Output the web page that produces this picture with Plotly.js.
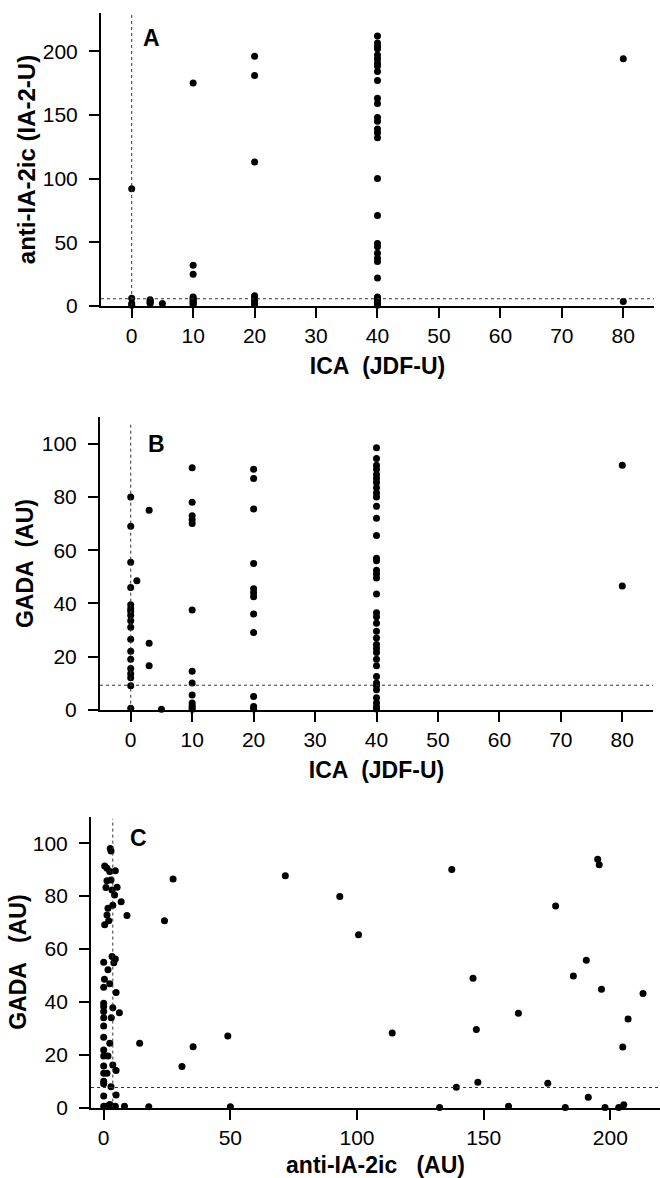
<!DOCTYPE html>
<html>
<head>
<meta charset="utf-8">
<script src="https://cdn.plot.ly/plotly-3.0.1.min.js"></script>
<style>html,body{margin:0;padding:0;background:#fff;}#chart{width:660px;height:1178px;}</style>
</head>
<body>
<div id="chart"></div>
<script>
// Panel A: ICA (JDF-U) vs anti-IA-2ic (IA-2-U)
var aICA = [0,0,0,0, 3,3,3,3, 5,
  10,10,10,10,10,10,10,10,10,10,
  20,20,20,20,20,20,20,20,20,
  40,40,40,40,40,40,40,40,40,40,40,40,40,40,40,40,40,40,40,40,40,40,40,40,40,40,40,40,40,40,40,40,40,
  80,80];
var aIA2 = [92,6,2,0.5, 5,4,3,2, 2,
  175,32,25,7,6,5,4,3,2,1,
  196,181,113,8,6,5,4,2,1,
  212,206.5,204,202,197,194,191,188.5,184,177,163,159,148,145,139,136,132,100,71,49,46.5,41.5,37.5,35,22,7,6,5,4,3,2,1,0.5,
  194,3.5];

// Panel B: ICA (JDF-U) vs GADA (AU)
var bICA = [0,0,0,0,0,0,0,0,0,0,0,0,0,0,0,0,0,0,
  1, 3,3,3, 5,
  10,10,10,10,10,10,10,10,10,10,10,10,10,
  20,20,20,20,20,20,20,20,20,20,20,20,
  40,40,40,40,40,40,40,40,40,40,40,40,40,40,40,40,40,40,40,40,40,40,40,40,40,40,40,40,40,40,40,40,40,40,40,40,40,
  80,80];
var bGADA = [80,69,55.5,46,39.5,38,37,35.5,33.5,31,26.5,22,19,15.5,13.5,12,9,0.5,
  48.5, 75,25,16.5, 0.2,
  91,78,73,71.5,70,37.5,14.5,10,5.5,2.5,1.5,0.8,0.2,
  90.5,87,75.5,55,45.5,44,42.5,36,29,5,1.2,0.3,
  98.5,94.5,92,90.5,88.5,87,85.5,83.5,81.5,80,76.5,72,65.5,57,56,52.5,51,49.5,43.5,36.5,35,32.5,29.5,27,24.5,23,21.5,19,16.5,12.5,10,9,7.5,4.5,2.5,1,0.3,
  92,46.5];

// Panel C: anti-IA-2ic (AU) vs GADA (AU)
var cIA2 = [2.6,2.9,0.4,1.3,2.4,4.6,1.3,2.9,0.9,3.3,5.3,4.3,6.9,3.6,1.7,9.2,1.3,2,0.4,24,27.4,
  3.3,4.6,4,0,1.7,0.3,2.4,0,4.9,0,0,0,3.6,6.2,0,3,0,0,2.4,14.2,35.3,0,0,1.7,0,3.6,4.9,30.9,0,1.3,0,0,2.9,0,4.9,2.4,
  0,1.3,2.4,3.6,4.6,8.2,17.8,50,
  49,71.7,93.2,100.6,113.9,137.4,139.2,145.8,147.1,147.7,163.7,175.3,178.4,185.4,190.5,195,195.6,196.5,204.9,207,212.9,191.3,
  132.6,159.8,182.2,197.9,203.3,205.3];
var cGADA = [98,97,91.4,90.5,89.3,89.6,85.8,86.1,83.2,82.3,83.3,80.4,77.8,76.5,75.4,72.6,72.8,70.7,69.1,70.7,86.4,
  57.1,56.2,54.8,55,52.1,48.5,46.8,45.5,43.5,39.5,38.2,36.3,37.8,35.9,34,34,30.9,26.6,24.3,24.3,23,21.8,19.5,19.5,15.7,16.1,14,15.5,13,13,10,9,7.9,4.4,4.8,1.2,
  0.5,0.5,0.5,0.5,0.5,0.5,0.3,0.3,
  27.1,87.7,79.8,65.4,28.2,90,7.7,48.9,29.5,9.6,35.7,9.2,76.2,49.8,55.7,93.9,91.8,44.8,22.9,33.5,43.1,3.9,
  0,0.5,0,0,0,1.1];

// Cut-off lines
var cutA = {ica: 0, ia2: 5.7};
var cutB = {ica: 0, gada: 9.2};
var cutC = {ia2: 3.6, gada: 7.6};

var FONT = 'Liberation Sans, Arial, Helvetica, sans-serif';
var mk = {color: '#000', size: 7};

var traces = [
  {x: aICA, y: aIA2, xaxis: 'x', yaxis: 'y', mode: 'markers', type: 'scatter', marker: mk, cliponaxis: false, hoverinfo: 'x+y'},
  {x: bICA, y: bGADA, xaxis: 'x2', yaxis: 'y2', mode: 'markers', type: 'scatter', marker: mk, cliponaxis: false, hoverinfo: 'x+y'},
  {x: cIA2, y: cGADA, xaxis: 'x3', yaxis: 'y3', mode: 'markers', type: 'scatter', marker: mk, cliponaxis: false, hoverinfo: 'x+y'}
];

function xax(domain, range, dtick, anchor, title, standoff) {
  return {domain: domain, range: range, anchor: anchor, dtick: dtick, tick0: 0,
    showgrid: false, zeroline: false, showline: true, linecolor: '#000', linewidth: 2,
    ticks: 'outside', ticklen: 10, tickwidth: 2, tickcolor: '#000',
    tickfont: {family: FONT, size: 21, color: '#000'},
    title: {text: title, font: {family: FONT, size: 23, color: '#000', weight: 'bold'}, standoff: standoff},
    fixedrange: true};
}
function yax(domain, range, dtick, anchor, title, standoff, tsize) {
  return {domain: domain, range: range, anchor: anchor, dtick: dtick, tick0: 0,
    showgrid: false, zeroline: false, showline: true, linecolor: '#000', linewidth: 2,
    ticks: 'outside', ticklen: 10, tickwidth: 2, tickcolor: '#000', ticklabelstandoff: 7,
    tickfont: {family: FONT, size: 21, color: '#000'},
    title: {text: title, font: {family: FONT, size: tsize, color: '#000', weight: 'bold'}, standoff: standoff},
    fixedrange: true};
}

var dash = {color: '#333', width: 1, dash: '3px,3px'};
var layout = {
  width: 660, height: 1178,
  margin: {l: 0, r: 0, t: 0, b: 0},
  paper_bgcolor: '#fff', plot_bgcolor: 'rgba(0,0,0,0)',
  showlegend: false,
  xaxis: xax([0.1530, 0.9909], [-5, 85], 10, 'y', 'ICA\u00a0\u00a0(JDF-U)', 12),
  yaxis: yax([0.74024, 0.98896], [0, 230], 50, 'x', 'anti-IA-2ic (IA-2-U)', 0, 24),
  xaxis2: xax([0.1515, 0.9894], [-5, 85], 10, 'y2', 'ICA\u00a0\u00a0(JDF-U)', 12),
  yaxis2: yax([0.39754, 0.64576], [0, 110], 20, 'x2', 'GADA\u00a0\u00a0(AU)', 2, 23),
  xaxis3: xax([0.1379, 1.0], [-5, 219.6], 50, 'y3', 'anti-IA-2ic\u00a0\u00a0\u00a0(AU)', 11),
  yaxis3: yax([0.05976, 0.30671], [0, 110], 20, 'x3', 'GADA\u00a0\u00a0\u00a0(AU)', 0, 23),
  shapes: [
    {type: 'line', xref: 'x', yref: 'y', x0: cutA.ica, x1: cutA.ica, y0: 0, y1: 230, line: dash},
    {type: 'line', xref: 'x', yref: 'y', x0: -5, x1: 85, y0: cutA.ia2, y1: cutA.ia2, line: dash},
    {type: 'line', xref: 'x2', yref: 'y2', x0: cutB.ica, x1: cutB.ica, y0: 0, y1: 107.2, line: dash},
    {type: 'line', xref: 'x2', yref: 'y2', x0: -5, x1: 85, y0: cutB.gada, y1: cutB.gada, line: dash},
    {type: 'line', xref: 'x3', yref: 'y3', x0: cutC.ia2, x1: cutC.ia2, y0: 0, y1: 109.2, line: dash},
    {type: 'line', xref: 'x3', yref: 'y3', x0: -5, x1: 219.6, y0: cutC.gada, y1: cutC.gada, line: dash}
  ],
  annotations: [
    {text: 'A', xref: 'paper', yref: 'paper', x: 151.7/660, y: 1 - 38/1178, showarrow: false, xanchor: 'center', yanchor: 'middle', font: {family: FONT, size: 23, color: '#000', weight: 'bold'}},
    {text: 'B', xref: 'paper', yref: 'paper', x: 156/660, y: 1 - 444/1178, showarrow: false, xanchor: 'center', yanchor: 'middle', font: {family: FONT, size: 23, color: '#000', weight: 'bold'}},
    {text: 'C', xref: 'paper', yref: 'paper', x: 138/660, y: 1 - 838/1178, showarrow: false, xanchor: 'center', yanchor: 'middle', font: {family: FONT, size: 23, color: '#000', weight: 'bold'}}
  ]
};

Plotly.newPlot('chart', traces, layout, {staticPlot: true, displayModeBar: false});
</script>
</body>
</html>
